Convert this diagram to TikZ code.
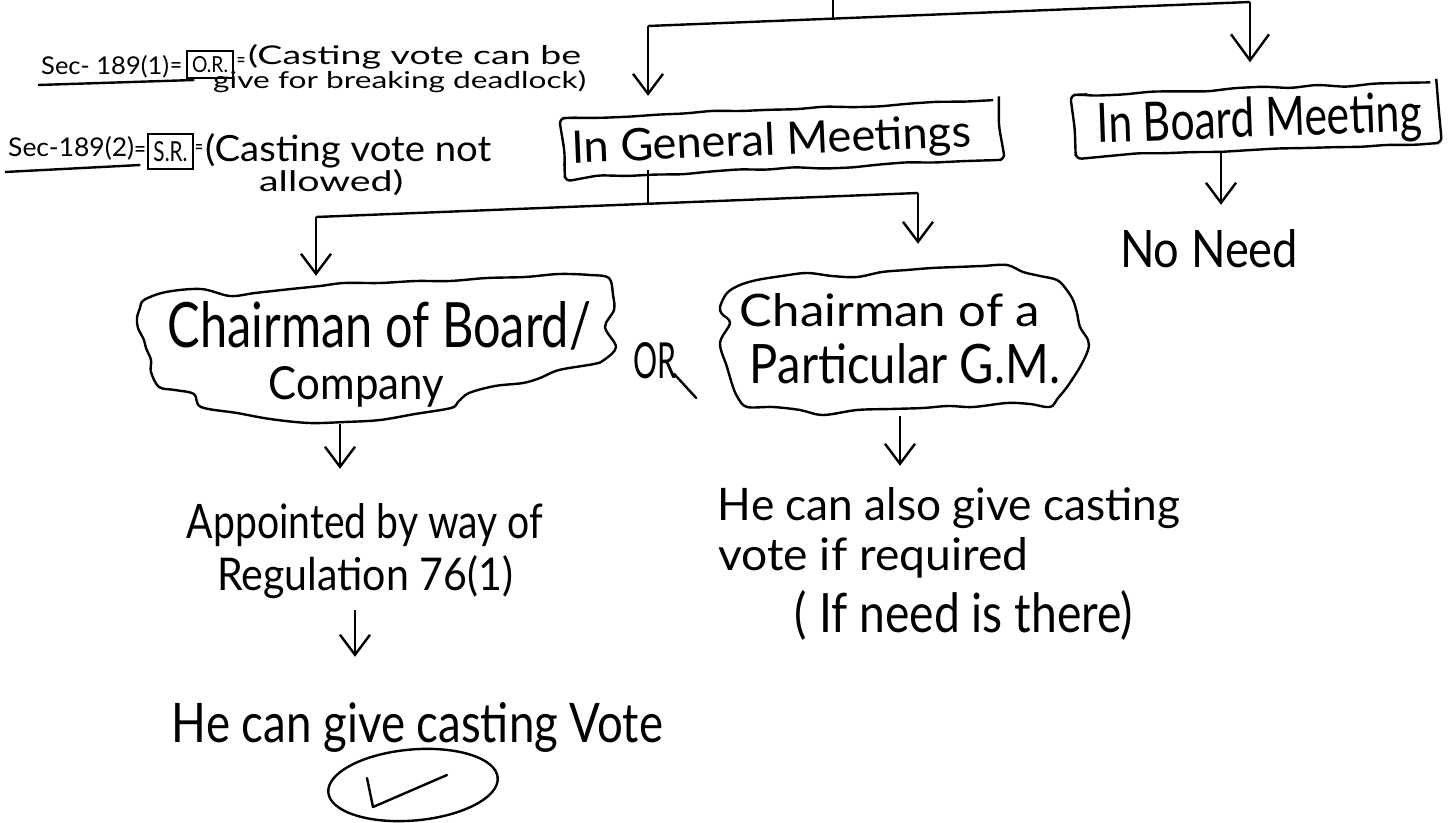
\documentclass[tikz,border=0pt]{standalone}
\usepackage{fontspec}
\setmainfont{Lato}
\usepackage{graphicx}
\usetikzlibrary{arrows.meta,shapes.geometric,decorations.pathmorphing,calc}
\newlength\pxu \setlength\pxu{0.5pt}
\newcommand\hw[3]{\resizebox{#1\pxu}{#2\pxu}{#3}}
\pgfmathsetseed{7}
\begin{document}
\begin{tikzpicture}[x=0.5pt,y=-0.5pt, line width=1.2pt,
  txt/.style={inner sep=0pt, anchor=base},
  txtl/.style={inner sep=0pt, anchor=base west},
  eqs/.style={inner sep=0pt},
  arr/.style={-{Straight Barb[length=10pt,width=15pt]}},
  bigarr/.style={-{Straight Barb[length=13pt,width=19pt]}},
  wbox/.style={draw, decorate, decoration={random steps,segment length=14pt,amplitude=0.8pt}, rounded corners=3pt, inner sep=0pt},
  sbox/.style={draw, inner sep=0pt},
  area/.style={inner sep=0pt},
  cloudline/.style={line join=round}]
\fill[white] (0,0) rectangle (1449,823);
\useasboundingbox (0,0) rectangle (1449,823);

% --- Section notes
\node[txtl] (s1) at (40,75) {\hw{128}{19}{Sec- 189(1)}};
\draw ($(s1.base west)+(-2,10)$) -- ($(s1.base east)+(24,5)$);
\node[eqs] (eq1) at (176,68) {\hw{12}{11}{=}};
\node[sbox, minimum width=46\pxu, minimum height=27\pxu] (or) at (210,64.5) {\hw{36}{16}{O.R.}};
\node[eqs] (eq2) at (241,63) {\hw{9}{10}{=}};
\node[txtl] (c1a) at (247,65) {\hw{333}{20}{(Casting vote can be}};
\node[txtl] (c1b) at (212,89) {\hw{373}{18}{give for breaking deadlock)}};

\node[txtl] (s2) at (7,157) {\hw{126}{20}{Sec-189(2)}};
\draw ($(s2.base west)+(-2,15)$) -- ($(s2.base east)+(5,8)$);
\node[eqs] (eq3) at (140,152) {\hw{12}{11}{=}};
\node[sbox, minimum width=45\pxu, minimum height=35\pxu] (sr) at (170.5,151.5) {\hw{34}{20}{S.R.}};
\node[eqs] (eq4) at (199,150) {\hw{8}{10}{=}};
\node[txtl] (c2a) at (204,162) {\hw{286}{28}{(Casting vote not}};
\node[txtl] (c2b) at (258,192) {\hw{144}{22}{allowed)}};

% --- meeting boxes
\node[wbox, minimum width=437\pxu, minimum height=60\pxu, rotate=2.4] (GM) at (782,139) {};
\node[txt, rotate=2.4] (GMt) at (772,155) {\hw{400}{33}{In General Meetings}};
\node[wbox, minimum width=363\pxu, minimum height=61\pxu, rotate=2] (BM) at (1256,119) {};
\node[txt, rotate=2] (BMt) at (1260,137) {\hw{325}{40}{In Board Meeting}};
\node[txt] (NN) at (1209,268) {\hw{178}{38}{No Need}};

% --- top connectors
\coordinate (top) at (833,0);
\coordinate (j1) at (833,19);
\coordinate (jL) at (648,26);
\coordinate (jR) at (1250,2);
\draw (top) -- (j1);
\draw (jL) -- (jR);
\draw[arr, shorten >=12\pxu] (jL) -- (jL |- GM.north);
\draw[bigarr, shorten >=25\pxu] (jR) -- (jR |- BM.north);
\coordinate (xn) at (1221,0);
\draw[arr, shorten >=24\pxu] (BM.south -| xn) -- (xn |- NN.north);

% --- clouds (hand-drawn outlines)
\node[area, minimum width=472\pxu, minimum height=148\pxu] (C1) at (380,349) {};
\draw[cloudline] plot[smooth cycle, tension=0.55] coordinates {
 (144,300) (166,292) (201,289) (230,296) (255,293) (291,289) (320,286) (344,283)
 (380,283) (416,281) (450,281) (487,278) (525,277) (559,274) (590,275) (609,278)
 (613,295) (614,310) (605,327) (616,347) (604,360) (594,364) (559,370) (540,378)
 (523,383) (495,386) (469,393) (458,402) (451,408) (415,414) (380,420) (345,422)
 (309,423) (270,419) (237,413) (201,407) (194,394) (175,390) (159,387) (151,372)
 (151,360) (146,348) (144,340) (138,328) (137,318) (140,308)};
\node[txt] (C1a) at (379.5,348) {\hw{423}{46}{Chairman of Board/}};
\node[txt] (C1b) at (356.5,400) {\hw{175}{33}{Company}};

\node[area, minimum width=368\pxu, minimum height=150\pxu] (C2) at (904,340) {};
\draw[cloudline] plot[smooth cycle, tension=0.55] coordinates {
 (727,293) (740,285) (757,280) (782,276) (807,273) (832,276) (857,277) (882,272)
 (907,270) (932,268) (957,267) (982,266) (1007,265) (1023,272) (1040,276) (1057,280)
 (1066,289) (1073,300) (1077,313) (1080,327) (1088,340) (1088,350) (1080,367)
 (1067,387) (1058,398) (1050,407) (1030,404) (1007,403) (973,407) (948,406) (923,408)
 (890,409) (857,410) (823,415) (800,410) (773,407) (747,407) (738,398) (733,387)
 (727,367) (720,343) (730,323) (722,314) (720,307)};
\node[txt] (C2a) at (890,327) {\hw{300}{33}{Chairman of a}};
\node[txt] (C2b) at (905,383) {\hw{310}{40}{Particular G.M.}};
\node[txt] (ORn) at (654.5,378) {\hw{43}{36}{OR}};
\draw[line cap=round] ([shift={(-3,-4)}]ORn.base east) -- ++(22,24);

% --- split under general meetings
\coordinate (g1) at (648,204);
\coordinate (gL) at (316,217);
\coordinate (gR) at (918,193);
\draw (GM.south -| g1) -- (g1);
\draw (gL) -- (gR);
\draw[arr, shorten >=-2\pxu] (gL) -- (gL |- C1.north);
\draw[arr, shorten >=20\pxu] (gR) -- (gR |- C2.north);

% --- lower texts
\node[txt] (AP1) at (365,538) {\hw{356}{35}{Appointed by way of}};
\node[txt] (AP2) at (365,590) {\hw{296}{35}{Regulation 76(1)}};
\node[txt] (HC) at (417.5,742) {\hw{491}{40}{He can give casting Vote}};
\node[txt] (HA1) at (949,520) {\hw{462}{33}{He can also give casting}};
\node[txtl] (HA2) at (717,570) {\hw{310}{33}{vote if required}};
\node[txt] (HA3) at (964,632) {\hw{338}{42}{( If need is there)}};

\coordinate (xa) at (340,0);
\draw[arr, shorten >=33\pxu] (C1.south -| xa) -- (xa |- AP1.north);
\coordinate (xb) at (355,0);
\draw[arr, shorten <=11\pxu, shorten >=44\pxu] (AP2.south -| xb) -- (xb |- HC.north);
\coordinate (xc) at (900,0);
\draw[arr, shorten >=20\pxu] (C2.south -| xc) -- (xc |- HA1.north);

% --- tick in ellipse
\node[ellipse, draw, minimum width=170\pxu, minimum height=71\pxu, inner sep=0pt, rotate=5] (OK) at (413,785) {};
\draw[line cap=round, line join=round] ($(OK.center)+(-46,-7)$) -- ($(OK.center)+(-40,22)$) -- ($(OK.center)+(34,-10)$);
\end{tikzpicture}
\end{document}
